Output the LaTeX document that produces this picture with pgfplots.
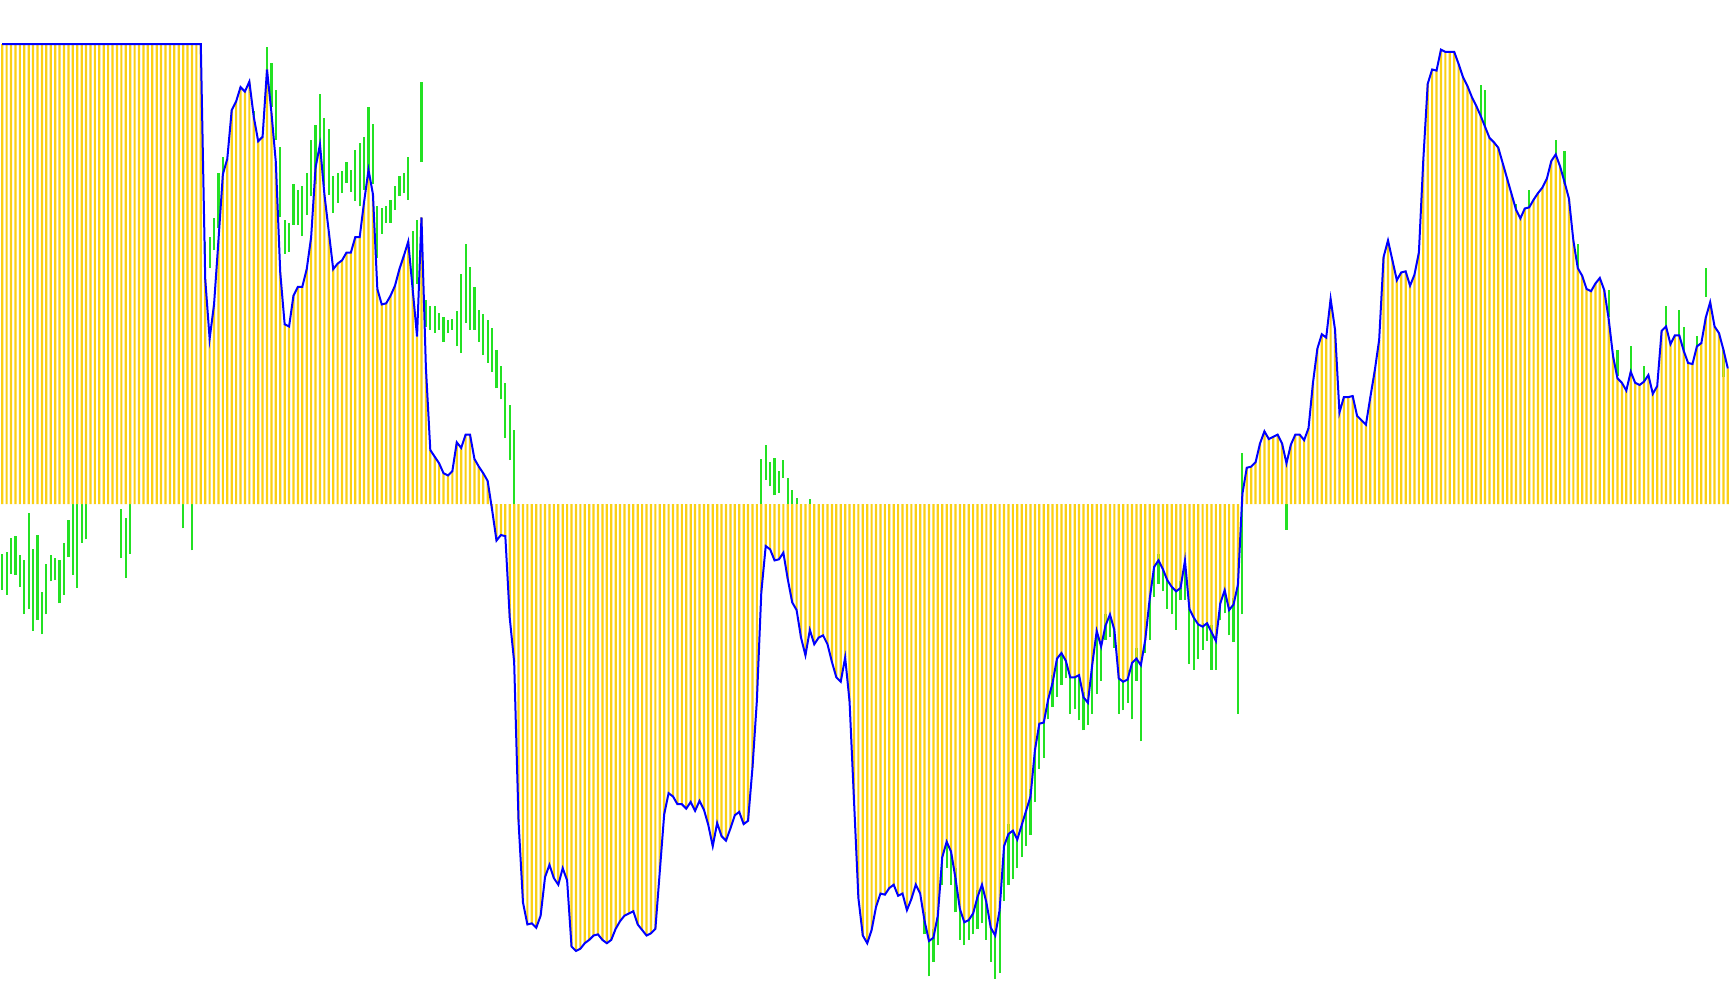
\documentclass[border=0pt]{standalone}
\usepackage{pgfplots}
\usepackage{pgfplotstable}
\pgfplotsset{compat=1.18}
\definecolor{barYellow}{RGB}{250,208,20}
\definecolor{rangeGreen}{RGB}{35,225,35}
\definecolor{lineBlue}{RGB}{0,0,255}

% oscillator value, one per two bars (x = 4*index + 2)
\pgfplotstableread[row sep=\\]{
v\\
417\\417\\417\\417\\417\\417\\417\\417\\417\\417\\
417\\417\\417\\417\\417\\417\\417\\417\\417\\417\\
417\\417\\417\\417\\417\\417\\417\\417\\417\\417\\
417\\417\\417\\417\\417\\417\\417\\417\\417\\417\\
417\\417\\417\\417\\417\\417\\
204\\150\\181\\239\\299\\313\\357\\365\\378\\374\\
383\\351\\329\\333\\394\\355\\310\\210\\163\\161\\
189\\197\\197\\213\\242\\305\\326\\281\\247\\213\\
218\\221\\228\\228\\242\\242\\274\\303\\281\\195\\
181\\182\\189\\198\\213\\225\\238\\195\\152\\260\\
124\\49\\43\\37\\28\\26\\30\\56\\51\\63\\
63\\41\\34\\28\\21\\-5\\-33\\-28\\-29\\-103\\
-143\\-288\\-361\\-381\\-380\\-384\\-373\\-338\\-327\\-339\\
-345\\-330\\-341\\-401\\-405\\-403\\-398\\-395\\-391\\-390\\
-395\\-398\\-395\\-385\\-378\\-373\\-371\\-369\\-381\\-386\\
-391\\-389\\-385\\-333\\-281\\-262\\-265\\-272\\-272\\-276\\
-270\\-278\\-269\\-277\\-291\\-310\\-289\\-301\\-305\\-294\\
-282\\-279\\-290\\-287\\-239\\-178\\-80\\-38\\-41\\-51\\
-50\\-44\\-68\\-89\\-96\\-121\\-137\\-114\\-127\\-121\\
-119\\-127\\-143\\-157\\-161\\-139\\-179\\-268\\-357\\-391\\
-398\\-386\\-365\\-353\\-354\\-348\\-345\\-355\\-353\\-368\\
-358\\-345\\-353\\-378\\-396\\-393\\-373\\-320\\-306\\-315\\
-339\\-367\\-379\\-377\\-371\\-356\\-345\\-361\\-384\\-391\\
-368\\-310\\-299\\-296\\-304\\-291\\-278\\-265\\-223\\-199\\
-198\\-177\\-162\\-140\\-135\\-142\\-157\\-157\\-155\\-175\\
-180\\-145\\-115\\-129\\-110\\-100\\-114\\-158\\-161\\-159\\
-144\\-140\\-146\\-123\\-86\\-57\\-51\\-59\\-69\\-75\\
-79\\-76\\-51\\-95\\-103\\-109\\-111\\-108\\-116\\-124\\
-90\\-78\\-96\\-91\\-73\\9\\33\\34\\38\\55\\
66\\59\\61\\63\\55\\37\\54\\63\\63\\58\\
69\\110\\141\\154\\151\\186\\158\\83\\97\\97\\
98\\80\\76\\72\\97\\121\\149\\224\\239\\221\\
203\\210\\211\\198\\208\\228\\312\\381\\394\\393\\
412\\410\\410\\410\\399\\387\\379\\369\\361\\352\\
342\\332\\328\\323\\309\\295\\281\\267\\259\\268\\
269\\276\\282\\287\\295\\311\\317\\306\\292\\277\\
239\\214\\207\\195\\193\\200\\205\\194\\168\\134\\
114\\110\\103\\120\\110\\108\\111\\117\\100\\107\\
157\\161\\145\\153\\153\\139\\128\\127\\143\\146\\
169\\183\\161\\155\\140\\123\\
}\osc

% raw range (low/high) where it shows beyond the histogram
\pgfplotstableread[row sep=\\]{
x lo hi\\
2 -78 -45\\ 6 -82 -43\\ 10 -63 -31\\ 14 -64 -29\\ 18 -75 -46\\
22 -100 -51\\ 26 -95 -8\\ 30 -115 -41\\ 34 -105 -28\\ 38 -118 -80\\
42 -100 -54\\ 46 -70 -46\\ 50 -69 -49\\ 54 -90 -51\\ 58 -82 -35\\
62 -48 -14\\ 66 -64 0\\ 70 -76 0\\ 74 -35 0\\ 78 -32 0\\
110 -49 -4\\ 114 -67 -13\\ 118 -45 0\\ 166 -22 0\\ 174 -42 0\\
186 197 238\\ 190 214 242\\ 194 230 259\\ 198 250 300\\ 202 280 315\\
230 339 356\\ 242 370 414\\ 246 360 400\\ 250 330 375\\ 254 260 324\\
258 227 258\\ 262 229 255\\ 266 253 290\\ 270 253 285\\ 274 243 288\\
278 262 300\\ 282 279 330\\ 286 290 344\\ 290 297 372\\ 294 288 350\\
298 280 340\\ 302 264 297\\ 306 273 300\\ 310 282 302\\ 314 291 310\\
318 283 303\\ 322 275 321\\ 326 270 327\\ 330 285 333\\ 334 295 360\\
338 290 345\\ 342 223 270\\ 346 245 268\\ 350 255 270\\ 354 255 276\\
358 267 288\\ 362 279 297\\ 366 282 300\\ 370 276 315\\ 374 190 248\\
378 200 258\\ 382 310 383\\ 386 161 185\\ 390 158 180\\ 394 155 180\\
398 158 173\\ 402 147 170\\ 406 155 167\\ 410 158 168\\ 414 143 175\\
418 137 209\\ 422 164 236\\ 426 158 215\\ 430 158 197\\ 434 147 176\\
438 135 172\\ 442 128 167\\ 446 120 160\\ 450 105 140\\ 454 95 125\\
458 60 110\\ 462 40 90\\ 466 0 67\\
690 0 41\\ 694 22 54\\ 698 16 38\\ 702 8 42\\ 706 10 30\\
710 24 40\\ 714 0 24\\ 718 0 13\\ 722 0 6\\ 734 0 5\\
838 -390 -370\\ 842 -428 -390\\ 846 -415 -385\\ 850 -400 -365\\ 854 -345 -300\\
858 -330 -300\\ 862 -345 -310\\ 866 -370 -330\\ 870 -395 -360\\ 874 -400 -370\\
878 -395 -370\\ 882 -390 -360\\ 886 -385 -350\\ 890 -380 -340\\ 894 -395 -355\\
898 -415 -375\\ 902 -430 -385\\ 906 -425 -360\\ 910 -360 -294\\ 914 -345 -290\\
918 -340 -290\\ 922 -330 -295\\ 926 -320 -285\\ 930 -310 -270\\ 934 -300 -258\\
938 -270 -215\\ 942 -240 -190\\ 946 -230 -190\\ 950 -195 -164\\ 954 -184 -155\\
958 -175 -138\\ 962 -164 -135\\ 966 -158 -137\\ 970 -190 -150\\ 974 -186 -150\\
978 -196 -150\\ 982 -205 -170\\ 986 -200 -170\\ 990 -190 -140\\ 994 -172 -85\\
998 -160 -125\\ 1002 -123 -100\\ 1006 -120 -95\\ 1010 -130 -110\\ 1014 -190 -150\\
1018 -187 -155\\ 1022 -180 -150\\ 1026 -195 -120\\ 1030 -160 -130\\ 1034 -215 -140\\
1038 -135 -102\\ 1042 -123 -80\\ 1046 -84 -52\\ 1050 -72 -45\\ 1054 -79 -55\\
1058 -95 -65\\ 1062 -100 -70\\ 1066 -114 -75\\ 1070 -87 -70\\ 1074 -87 -40\\
1078 -145 -90\\ 1082 -150 -100\\ 1086 -140 -105\\ 1090 -132 -108\\ 1094 -124 -100\\
1098 -150 -110\\ 1102 -150 -115\\ 1106 -105 -85\\ 1110 -99 -75\\ 1114 -119 -90\\
1118 -125 -85\\ 1122 -190 -60\\ 1126 -100 46\\ 1166 -23 0\\
1342 350 380\\ 1346 340 375\\ 1374 250 272\\ 1386 255 285\\ 1410 315 330\\
1418 290 320\\ 1430 203 236\\ 1458 170 194\\ 1466 116 140\\ 1478 116 143\\
1490 94 125\\ 1510 134 180\\ 1522 150 176\\ 1526 134 161\\ 1538 134 152\\
1546 188 214\\ 1562 115 140\\
}\ranges

\begin{document}
\begin{tikzpicture}
\begin{axis}[
    name=ax,
    width=17.30cm, height=10.05cm,
    scale only axis,
    xmin=0, xmax=1568,
    ymin=-454, ymax=457,
    hide axis,
    clip=true,
]
% green high-low ranges (behind)
\addplot[draw=none, mark=none,
    error bars/.cd, y dir=plus, y explicit, error mark=none,
    error bar style={draw=rangeGreen, line width=0.22mm}]
    table[x=x, y=lo, y error expr=\thisrow{hi}-\thisrow{lo}] {\ranges};
% yellow histogram
\addplot[ybar, bar width=2, fill=barYellow, draw=none]
    table[x expr=\coordindex*4+2, y=v] {\osc};
% blue signal line
\addplot[lineBlue, line width=0.2mm]
    table[x expr=\coordindex*4+2, y=v] {\osc};
\end{axis}
\pgfresetboundingbox
\path (ax.south west) rectangle (ax.north east);
\end{tikzpicture}
\end{document}
